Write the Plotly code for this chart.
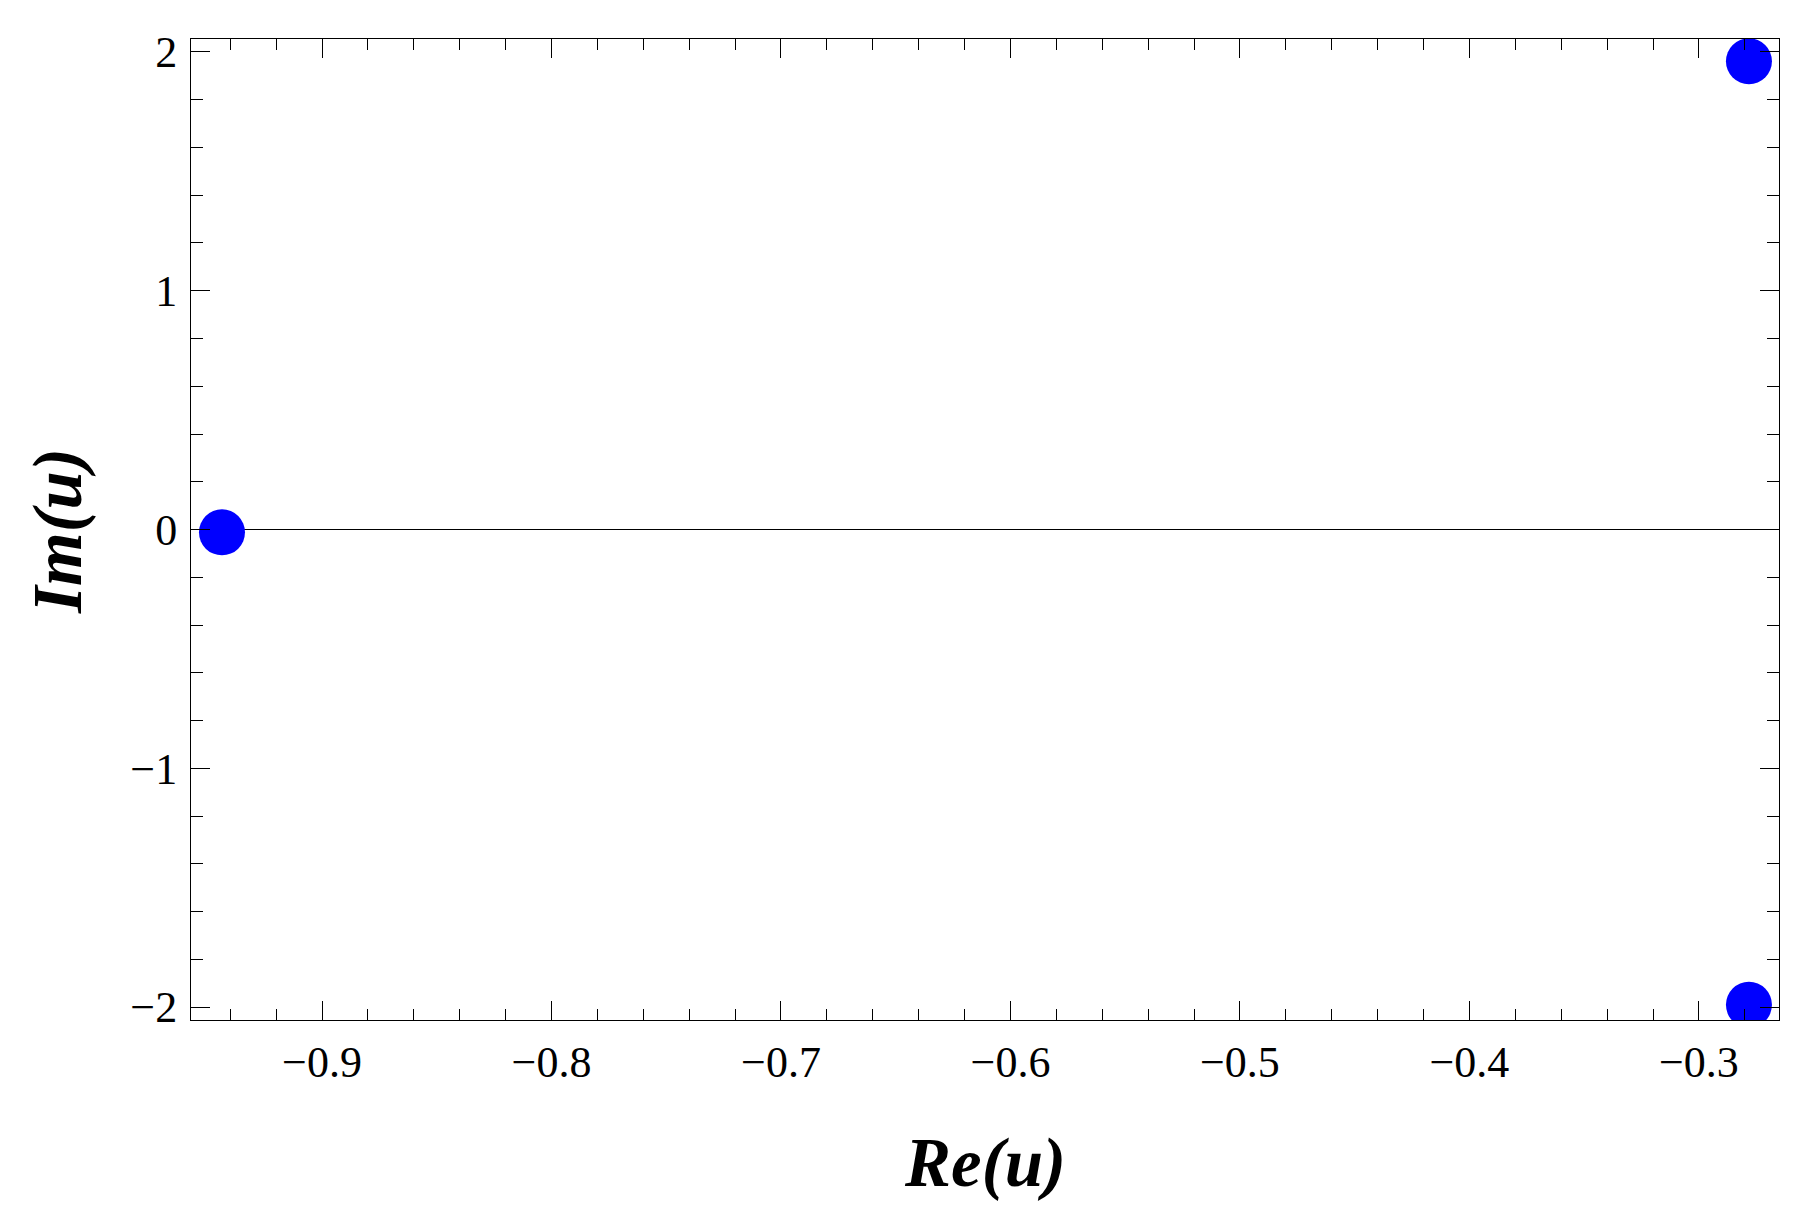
import plotly.graph_objects as go

re_u = [-0.9436, -0.2782, -0.2782]
im_u = [-0.012, 1.961, -1.991]

x_range = [-0.9571, -0.2651]
y_range = [-2.0544, 2.0544]
x_ticks = [-0.9, -0.8, -0.7, -0.6, -0.5, -0.4, -0.3]
y_ticks = [-2, -1, 0, 1, 2]

FONT = "Liberation Serif"

fig = go.Figure()
fig.add_trace(go.Scatter(
    x=re_u, y=im_u, mode="markers",
    marker=dict(size=46, color="#0000FF", line=dict(width=0)),
    cliponaxis=True, showlegend=False,
))

axis_common = dict(
    showgrid=False, showline=True, linecolor="black", linewidth=1,
    mirror="ticks", ticks="inside", ticklen=19, tickwidth=1, tickcolor="black",
    tickfont=dict(family=FONT, size=44, color="black"),
)

fig.update_xaxes(
    range=x_range, tickvals=x_ticks,
    ticktext=["\u2212" + f"{abs(v):.1f}" for v in x_ticks],
    zeroline=False,
    minor=dict(ticks="inside", ticklen=11, dtick=0.02, tick0=-0.9, tickcolor="black", tickwidth=1, showgrid=False),
    ticklabelstandoff=3,
    **axis_common,
)
fig.update_yaxes(
    range=y_range, tickvals=y_ticks,
    ticktext=[("\u2212" + str(abs(v))) if v < 0 else str(v) for v in y_ticks],
    zeroline=True, zerolinecolor="black", zerolinewidth=1,
    minor=dict(ticks="inside", ticklen=12, dtick=0.2, tick0=0, tickcolor="black", tickwidth=1, showgrid=False),
    ticklabelstandoff=4,
    **axis_common,
)

fig.add_annotation(
    text="Re(u)", xref="paper", yref="paper", x=0.5, y=-0.1458,
    xanchor="center", yanchor="middle", showarrow=False,
    font=dict(family=FONT, size=69, color="black", weight="bold", style="italic"),
)
fig.add_annotation(
    text="Im(u)", xref="paper", yref="paper", x=-0.0838, y=0.4985,
    xanchor="center", yanchor="middle", showarrow=False, textangle=-90,
    font=dict(family=FONT, size=69, color="black", weight="bold", style="italic"),
)

fig.update_layout(
    width=1807, height=1212,
    margin=dict(l=183, r=36, t=31, b=200),
    paper_bgcolor="white", plot_bgcolor="white",
)

fig.write_html("out.html")
